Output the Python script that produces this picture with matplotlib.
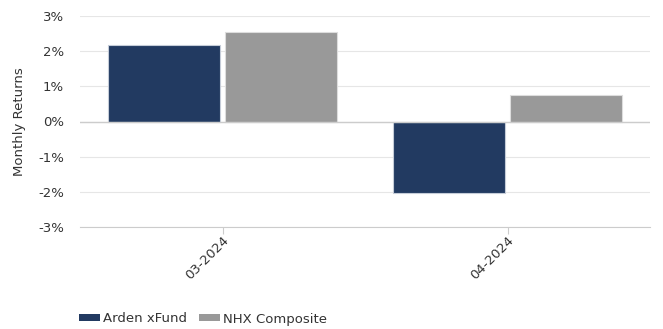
import matplotlib
matplotlib.use("Agg")
import matplotlib.pyplot as plt
import matplotlib.transforms as mtransforms
import numpy as np
from matplotlib.patches import Patch

categories = ["03-2024", "04-2024"]
series_names = ["Arden xFund", "NHX Composite"]
arden = [2.17, -2.02]
nhx = [2.54, 0.75]
colors = ["#223a61", "#999999"]
edge_colors = ["#c5ccd8", "#dddddd"]
yticks = [-3, -2, -1, 0, 1, 2, 3]

plt.rcParams["font.family"] = ["DejaVu Sans"]
fs = 9.5
fig = plt.figure(figsize=(6.63, 3.29), dpi=100)
W, H = 663, 329
ax = fig.add_axes([80 / W, 1 - 227 / H, 570 / W, 211 / H])

x = np.arange(len(categories))
bw = 0.392
gap = 0.018
for i, (vals, c, ec) in enumerate(zip([arden, nhx], colors, edge_colors)):
    offs = (i - 0.5) * (bw + gap)
    ax.bar(x + offs, vals, width=bw, color=c, edgecolor=ec, linewidth=0.8, zorder=3)

ax.set_xlim(-0.5, 1.5)
ax.set_ylim(-3, 3)
ax.set_yticks(yticks)
ax.set_yticklabels([f"{t}%" for t in yticks], fontsize=fs, color="#333333")
ax.set_xticks(x)
ax.set_xticklabels(categories, rotation=45, ha="right", rotation_mode="anchor",
                   fontsize=fs, color="#333333")
shift = mtransforms.ScaledTranslation(-4 / 100, 0, fig.dpi_scale_trans)
for lbl in ax.get_xticklabels():
    lbl.set_transform(lbl.get_transform() + shift)
ax.grid(axis="y", color="#e6e6e6", linewidth=0.8, zorder=0)
ax.axhline(0, color="#cccccc", linewidth=1.0, zorder=4)
for s in ["top", "right", "left"]:
    ax.spines[s].set_visible(False)
ax.spines["bottom"].set_color("#cccccc")
ax.tick_params(axis="y", length=0, pad=11.5)
ax.tick_params(axis="x", length=5, color="#cccccc", pad=0)
ax.set_ylabel("Monthly Returns", fontsize=fs, color="#333333", labelpad=9)

handles = [Patch(facecolor=c, edgecolor="none") for c in colors]
fig.legend(handles, series_names, loc="center left", bbox_to_anchor=(72 / W, 1 - 319 / H),
           ncol=2, frameon=False, fontsize=fs, handlelength=1.6, handleheight=0.45,
           handletextpad=0.25, columnspacing=0.9, labelcolor="#333333",
           borderpad=0.0)

fig.savefig("out.png", dpi=100)
